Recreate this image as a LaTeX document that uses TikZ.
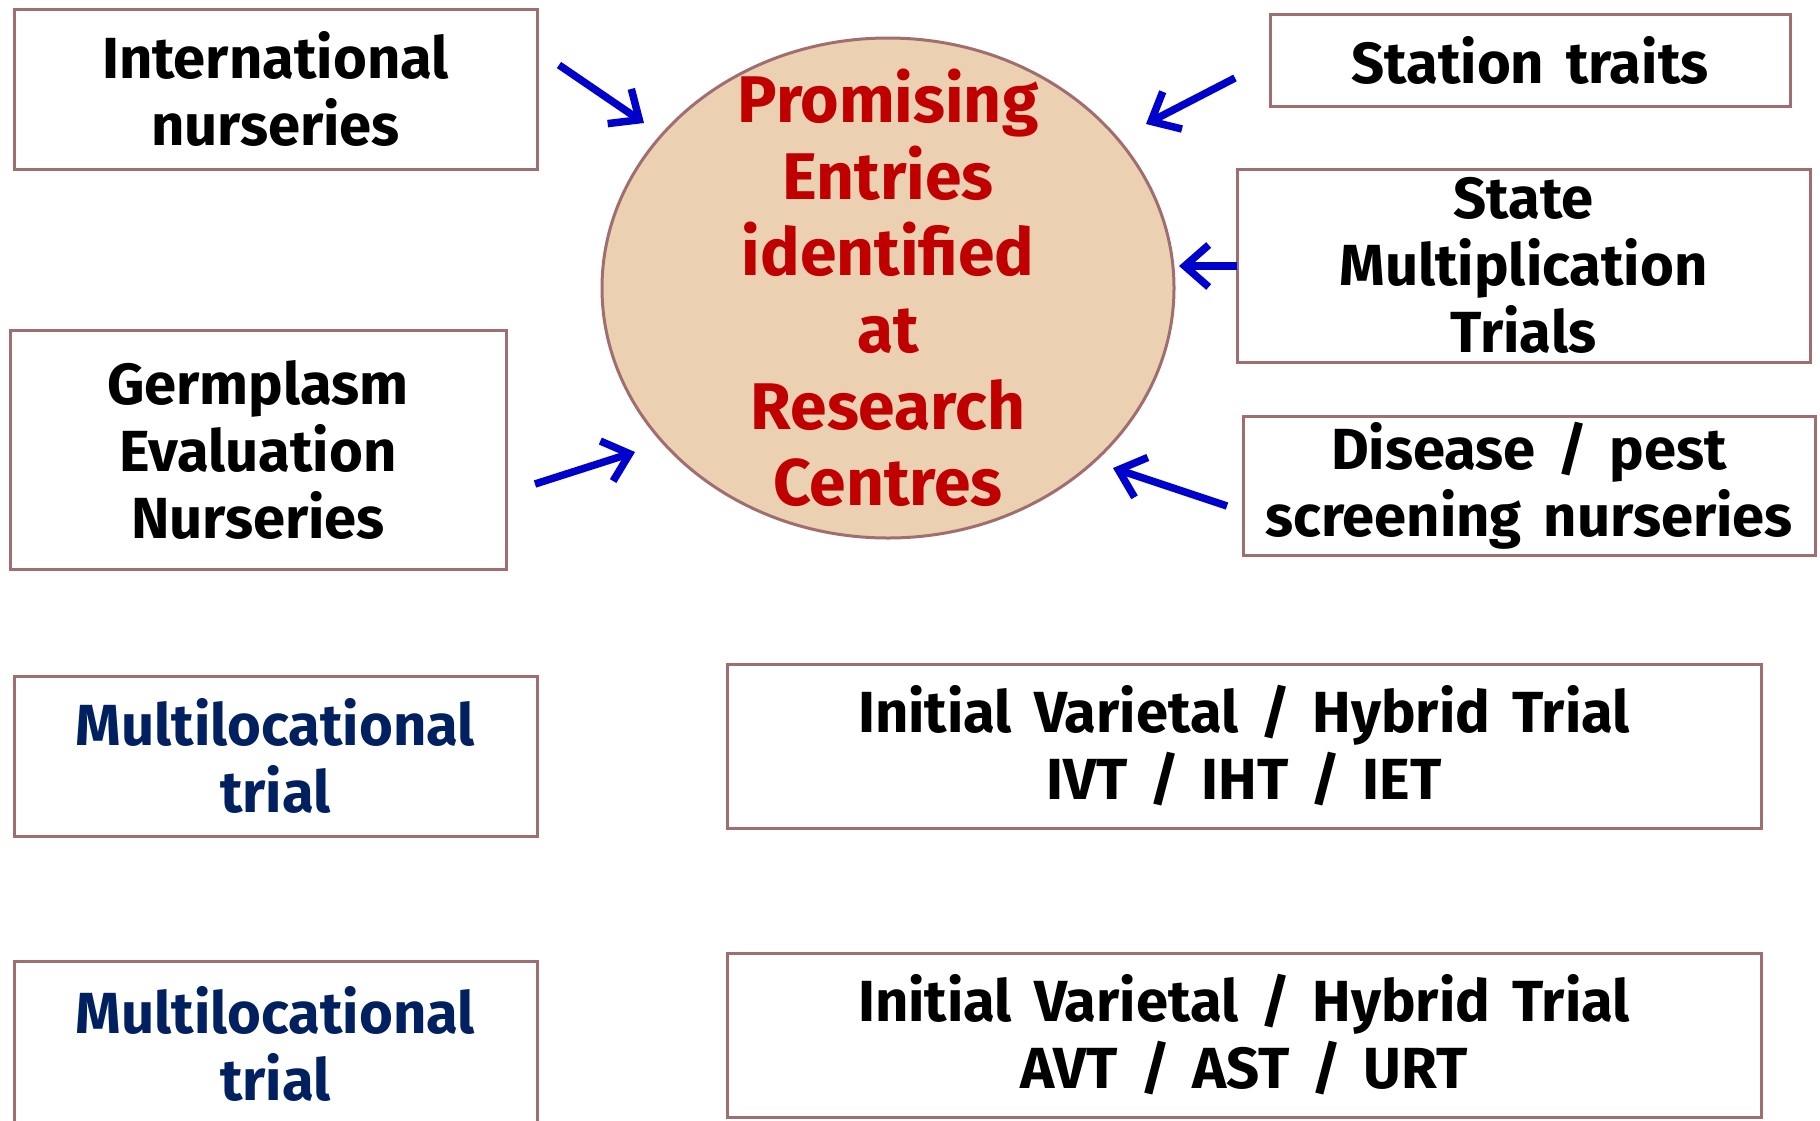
\documentclass[tikz,border=0pt]{standalone}
\usepackage{fontspec}
\setmainfont{Fira Sans}
\usetikzlibrary{shapes.geometric,arrows.meta}
\definecolor{boxline}{RGB}{160,110,110}
\definecolor{ellfill}{RGB}{235,208,178}
\definecolor{redtxt}{RGB}{192,0,0}
\definecolor{navytxt}{RGB}{0,32,96}
\definecolor{arrblue}{RGB}{0,0,204}
\newcommand{\myboxfont}{\fontsize{58}{67}\selectfont\bfseries\spaceskip=22pt plus 6pt minus 4pt\relax}
\tikzset{
  infobox/.style={draw=boxline, line width=3pt, fill=white, rectangle, inner sep=0pt, align=center,
    font=\myboxfont},
  navybox/.style={infobox, text=navytxt},
  feed/.style={draw=arrblue, line width=7.5pt, -{Straight Barb[length=24pt,width=42pt,line width=7.5pt]}},
}
\begin{document}
\begin{tikzpicture}[x=1pt,y=-1pt]
\useasboundingbox (0,0) rectangle (1820,1120);
\clip (0,0) rectangle (1820,1120);
\node[ellipse, draw=boxline, line width=3pt, fill=ellfill, minimum width=572pt, minimum height=500pt, inner sep=0pt] (centre) at (888,288) {};
\node[text=redtxt, align=center, inner sep=0pt, font=\fontsize{66}{76.6}\selectfont\bfseries] (centretxt) at (centre.center)
  {Promising\\Entries\\identified\\at\\Research\\Centres};
\node[infobox, minimum width=523pt, minimum height=160pt] (intl) at (275.5,89) {International\\nurseries};
\node[infobox, minimum width=520pt, minimum height=92pt] (station) at (1530,60) {Station traits};
\node[infobox, minimum width=573pt, minimum height=193pt] (state) at (1523.5,265.5) {State\\Multiplication\\Trials};
\node[infobox, minimum width=572pt, minimum height=139pt] (disease) at (1529,485.5) {Disease / pest\\screening nurseries};
\node[infobox, minimum width=496pt, minimum height=239pt] (germ) at (258,449.5) {Germplasm\\Evaluation\\Nurseries};
\node[navybox, minimum width=523pt, minimum height=160pt] (multi1) at (275.5,756) {Multilocational\\trial};
\node[infobox, minimum width=1034pt, minimum height=164pt] (ivt) at (1244,746) {Initial Varietal / Hybrid Trial\\IVT / IHT / IET};
\node[navybox, minimum width=523pt, minimum height=166pt] (multi2) at (275.5,1044) {Multilocational\\trial};
\node[infobox, minimum width=1034pt, minimum height=164pt] (avt) at (1244,1035) {Initial Varietal / Hybrid Trial\\AVT / AST / URT};
\coordinate (a1s) at (559,65);   \coordinate (a1e) at (644,123);
\coordinate (a2s) at (1235,78);  \coordinate (a2e) at (1146,124);
\coordinate (a3s) at (1237,266); \coordinate (a3e) at (1179,266);
\coordinate (a4s) at (1227,506); \coordinate (a4e) at (1113,468);
\coordinate (a5s) at (535,484);  \coordinate (a5e) at (635,452);
\draw[feed] (a1s) -- (a1e);
\draw[feed] (a2s) -- (a2e);
\draw[feed] (a3s) -- (a3e);
\draw[feed] (a4s) -- (a4e);
\draw[feed] (a5s) -- (a5e);
\end{tikzpicture}
\end{document}
